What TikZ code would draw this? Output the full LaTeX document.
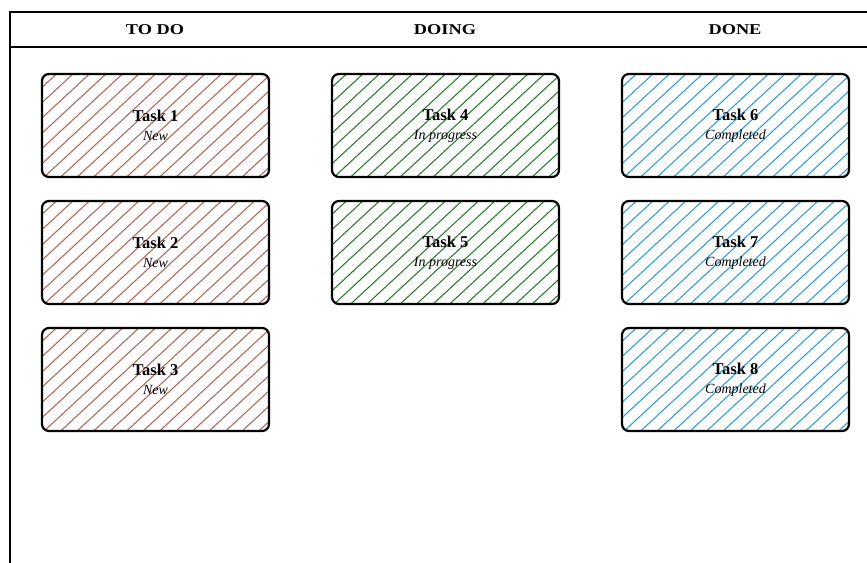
\documentclass[tikz,border=0pt]{standalone}
\usepackage{fontspec}
\setmainfont{Liberation Serif}
\newfontfamily\hdrfont[FakeStretch=1.22]{Liberation Serif}
\usetikzlibrary{calc}
\definecolor{todoc}{RGB}{175,108,92}
\definecolor{doingc}{RGB}{48,125,50}
\definecolor{donec}{RGB}{55,158,210}
\tikzset{
  frameline/.style={line width=1.6pt, black},
  hdr/.style={font=\hdrfont\fontsize{15}{17}\selectfont\bfseries},
  taskbox/.style={draw=black, line width=2.2pt, rounded corners=7pt,
    minimum width=227pt, minimum height=103pt, inner sep=0pt, align=center,
    font=\fontsize{16}{18}\selectfont},
  hatched/.style={path picture={
    \foreach \i in {-8,...,15}{
      \draw[#1, line width=1.1pt]
        ($(path picture bounding box.south west)+(\i*16.5pt,-2pt)$) -- ++(135pt,125pt);
    }}},
}
\newcommand{\tasktext}[2]{{\fontsize{16.5}{18}\selectfont\bfseries #1}\\[1pt]{\fontsize{14}{16}\selectfont\itshape #2}}
\begin{document}
\begin{tikzpicture}[x=1pt,y=-1pt]
\useasboundingbox (0,0) rectangle (867,562);
% frame
\coordinate (tl) at (10,12);
\coordinate (tr) at (870,12);
\coordinate (hl) at (10,47);
\coordinate (hr) at (870,47);
\coordinate (bl) at (10,565);
\draw[frameline] (tr) -- (tl) -- (bl);
\draw[frameline] (hl) -- (hr);
% headers
\node[hdr] (h1) at (155,30) {TO DO};
\node[hdr] (h2) at (445,30) {DOING};
\node[hdr] (h3) at (735,30) {DONE};
% tasks
\node[taskbox, hatched=todoc] (t1) at (155.5,125.5) {\tasktext{Task 1}{New}};
\node[taskbox, hatched=todoc] (t2) at (155.5,252.5) {\tasktext{Task 2}{New}};
\node[taskbox, hatched=todoc] (t3) at (155.5,379.5) {\tasktext{Task 3}{New}};
\node[taskbox, hatched=doingc] (t4) at (445.5,125.5) {\tasktext{Task 4}{In progress}};
\node[taskbox, hatched=doingc] (t5) at (445.5,252.5) {\tasktext{Task 5}{In progress}};
\node[taskbox, hatched=donec] (t6) at (735.5,125.5) {\tasktext{Task 6}{Completed}};
\node[taskbox, hatched=donec] (t7) at (735.5,252.5) {\tasktext{Task 7}{Completed}};
\node[taskbox, hatched=donec] (t8) at (735.5,379.5) {\tasktext{Task 8}{Completed}};
\end{tikzpicture}
\end{document}
